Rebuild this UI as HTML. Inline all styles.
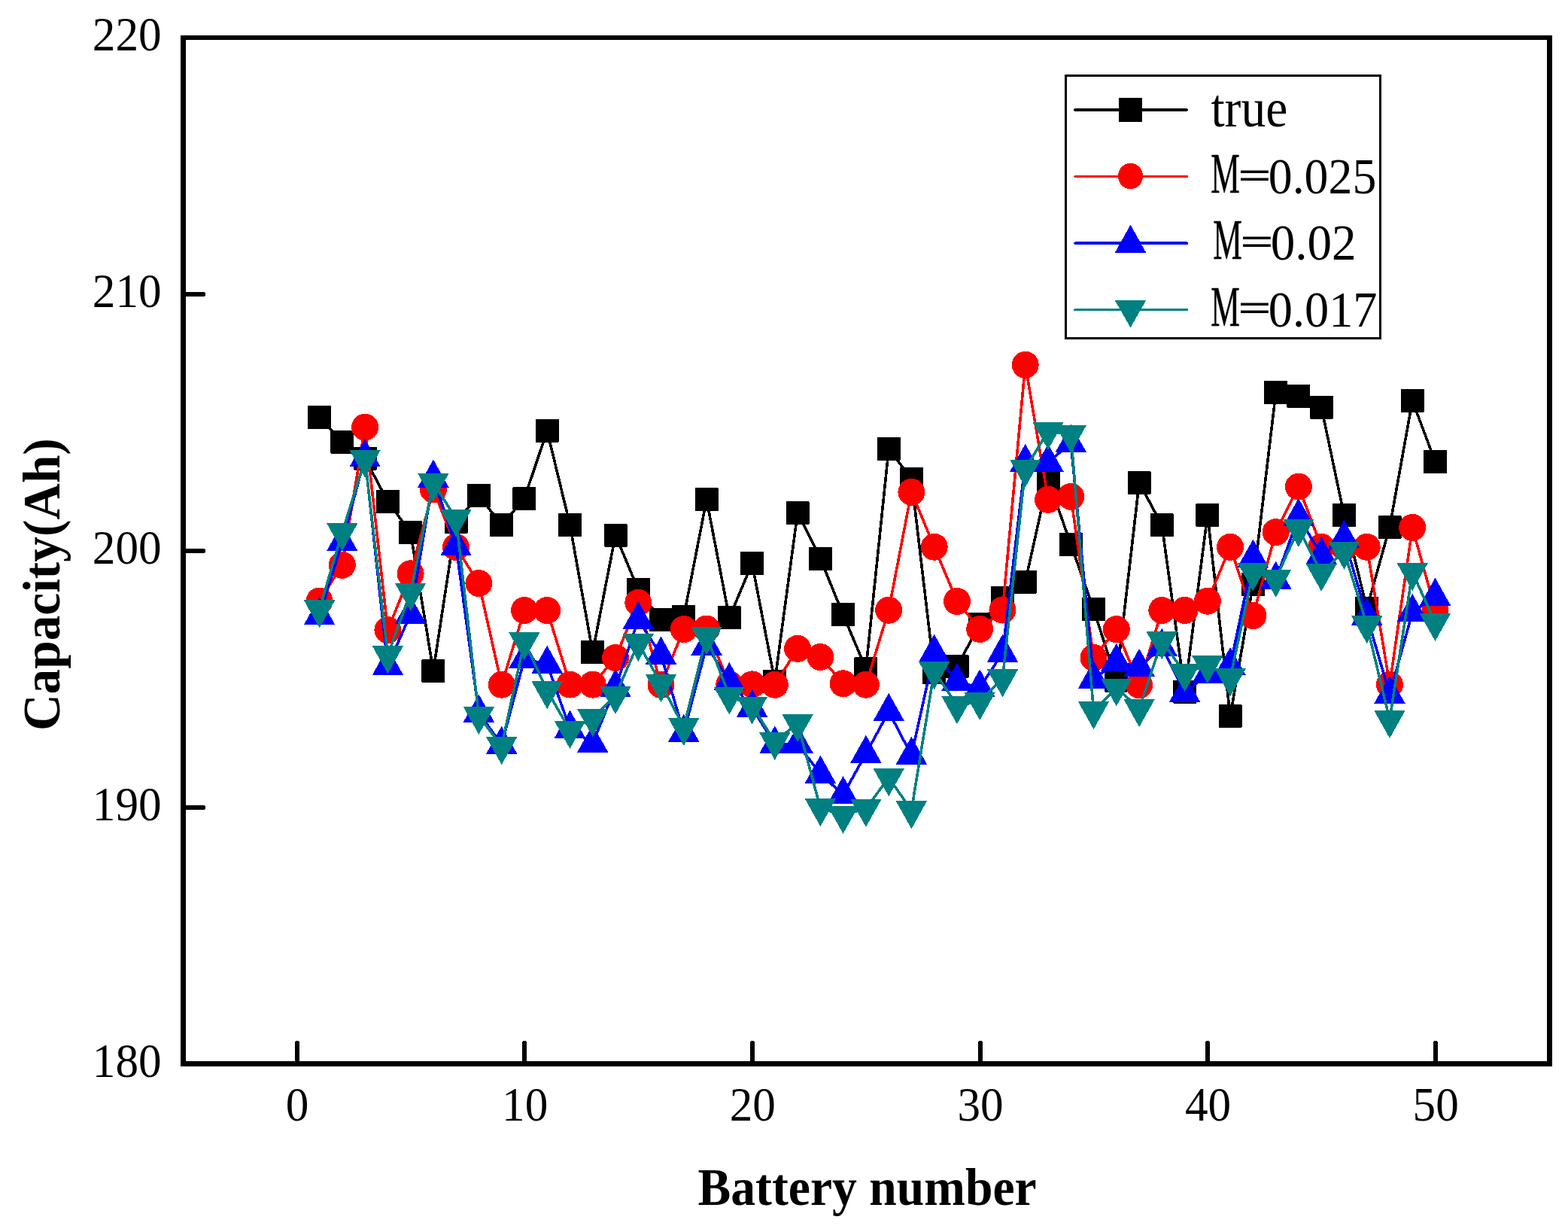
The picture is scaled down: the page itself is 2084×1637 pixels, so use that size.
<!DOCTYPE html>
<html lang="en">
<head>
<meta charset="utf-8">
<title>Capacity(Ah) vs Battery number</title>
<style>
html,body{margin:0;padding:0;background:#fff;}
body{width:2084px;height:1637px;overflow:hidden;}
svg{display:block;}
text{font-family:"Liberation Serif","DejaVu Serif",serif;fill:#000;}
.tick{font-size:60px;}
.title{font-weight:bold;}
.leg{font-size:67px;}
</style>
</head>
<body>
<svg width="2084" height="1637" viewBox="0 0 2084 1637">
<rect x="0" y="0" width="2084" height="1637" fill="#fff"/>
<g shape-rendering="crispEdges" stroke-linejoin="round">
<g stroke="#000" fill="#000"><polyline fill="none" stroke-width="3.6" points="424.6,554.3 454.8,587.3 485.1,609.0 515.4,666.4 545.6,707.3 575.9,891.4 606.1,693.5 636.4,658.3 666.7,697.7 696.9,662.4 727.2,572.4 757.5,697.4 787.7,866.7 818.0,711.0 848.3,783.6 878.5,823.5 908.8,819.5 939.1,663.8 969.3,820.8 999.6,748.7 1029.8,905.6 1060.1,681.3 1090.4,742.3 1120.6,816.8 1150.9,888.5 1181.2,596.4 1211.4,636.2 1241.7,893.5 1272.0,885.4 1302.2,829.7 1332.5,794.6 1362.7,773.0 1393.0,637.1 1423.3,723.5 1453.5,809.6 1483.8,904.0 1514.1,641.4 1544.3,697.8 1574.6,919.2 1604.9,684.4 1635.1,951.4 1665.4,776.7 1695.7,521.5 1725.9,526.3 1756.2,541.0 1786.4,684.5 1816.7,808.5 1847.0,700.3 1877.2,532.4 1907.5,613.4"/><g stroke="none"><rect x="409.1" y="538.8" width="31" height="31" rx="1"/><rect x="439.3" y="571.8" width="31" height="31" rx="1"/><rect x="469.6" y="593.5" width="31" height="31" rx="1"/><rect x="499.9" y="650.9" width="31" height="31" rx="1"/><rect x="530.1" y="691.8" width="31" height="31" rx="1"/><rect x="560.4" y="875.9" width="31" height="31" rx="1"/><rect x="590.6" y="678.0" width="31" height="31" rx="1"/><rect x="620.9" y="642.8" width="31" height="31" rx="1"/><rect x="651.2" y="682.2" width="31" height="31" rx="1"/><rect x="681.4" y="646.9" width="31" height="31" rx="1"/><rect x="711.7" y="556.9" width="31" height="31" rx="1"/><rect x="742.0" y="681.9" width="31" height="31" rx="1"/><rect x="772.2" y="851.2" width="31" height="31" rx="1"/><rect x="802.5" y="695.5" width="31" height="31" rx="1"/><rect x="832.8" y="768.1" width="31" height="31" rx="1"/><rect x="863.0" y="808.0" width="31" height="31" rx="1"/><rect x="893.3" y="804.0" width="31" height="31" rx="1"/><rect x="923.6" y="648.3" width="31" height="31" rx="1"/><rect x="953.8" y="805.3" width="31" height="31" rx="1"/><rect x="984.1" y="733.2" width="31" height="31" rx="1"/><rect x="1014.3" y="890.1" width="31" height="31" rx="1"/><rect x="1044.6" y="665.8" width="31" height="31" rx="1"/><rect x="1074.9" y="726.8" width="31" height="31" rx="1"/><rect x="1105.1" y="801.3" width="31" height="31" rx="1"/><rect x="1135.4" y="873.0" width="31" height="31" rx="1"/><rect x="1165.7" y="580.9" width="31" height="31" rx="1"/><rect x="1195.9" y="620.7" width="31" height="31" rx="1"/><rect x="1226.2" y="878.0" width="31" height="31" rx="1"/><rect x="1256.5" y="869.9" width="31" height="31" rx="1"/><rect x="1286.7" y="814.2" width="31" height="31" rx="1"/><rect x="1317.0" y="779.1" width="31" height="31" rx="1"/><rect x="1347.2" y="757.5" width="31" height="31" rx="1"/><rect x="1377.5" y="621.6" width="31" height="31" rx="1"/><rect x="1407.8" y="708.0" width="31" height="31" rx="1"/><rect x="1438.0" y="794.1" width="31" height="31" rx="1"/><rect x="1468.3" y="888.5" width="31" height="31" rx="1"/><rect x="1498.6" y="625.9" width="31" height="31" rx="1"/><rect x="1528.8" y="682.3" width="31" height="31" rx="1"/><rect x="1559.1" y="903.7" width="31" height="31" rx="1"/><rect x="1589.4" y="668.9" width="31" height="31" rx="1"/><rect x="1619.6" y="935.9" width="31" height="31" rx="1"/><rect x="1649.9" y="761.2" width="31" height="31" rx="1"/><rect x="1680.2" y="506.0" width="31" height="31" rx="1"/><rect x="1710.4" y="510.8" width="31" height="31" rx="1"/><rect x="1740.7" y="525.5" width="31" height="31" rx="1"/><rect x="1770.9" y="669.0" width="31" height="31" rx="1"/><rect x="1801.2" y="793.0" width="31" height="31" rx="1"/><rect x="1831.5" y="684.8" width="31" height="31" rx="1"/><rect x="1861.7" y="516.9" width="31" height="31" rx="1"/><rect x="1892.0" y="597.9" width="31" height="31" rx="1"/></g></g>
<g stroke="#f00" fill="#f00"><polyline fill="none" stroke-width="3.6" points="424.6,798.5 454.8,750.8 485.1,567.6 515.4,837.1 545.6,762.3 575.9,650.3 606.1,726.9 636.4,775.0 666.7,909.7 696.9,811.0 727.2,811.0 757.5,909.6 787.7,909.6 818.0,873.9 848.3,800.7 878.5,910.0 908.8,836.0 939.1,835.5 969.3,909.0 999.6,909.4 1029.8,909.8 1060.1,861.8 1090.4,873.0 1120.6,908.3 1150.9,909.7 1181.2,810.7 1211.4,653.8 1241.7,726.7 1272.0,799.0 1302.2,835.9 1332.5,810.5 1362.7,484.7 1393.0,663.8 1423.3,659.8 1453.5,873.9 1483.8,836.1 1514.1,910.2 1544.3,811.0 1574.6,810.9 1604.9,798.7 1635.1,726.8 1665.4,818.2 1695.7,707.1 1725.9,646.6 1756.2,726.7 1786.4,726.8 1816.7,726.8 1847.0,909.6 1877.2,700.9 1907.5,810.0"/><g stroke="none"><circle cx="424.6" cy="798.5" r="18"/><circle cx="454.8" cy="750.8" r="18"/><circle cx="485.1" cy="567.6" r="18"/><circle cx="515.4" cy="837.1" r="18"/><circle cx="545.6" cy="762.3" r="18"/><circle cx="575.9" cy="650.3" r="18"/><circle cx="606.1" cy="726.9" r="18"/><circle cx="636.4" cy="775.0" r="18"/><circle cx="666.7" cy="909.7" r="18"/><circle cx="696.9" cy="811.0" r="18"/><circle cx="727.2" cy="811.0" r="18"/><circle cx="757.5" cy="909.6" r="18"/><circle cx="787.7" cy="909.6" r="18"/><circle cx="818.0" cy="873.9" r="18"/><circle cx="848.3" cy="800.7" r="18"/><circle cx="878.5" cy="910.0" r="18"/><circle cx="908.8" cy="836.0" r="18"/><circle cx="939.1" cy="835.5" r="18"/><circle cx="969.3" cy="909.0" r="18"/><circle cx="999.6" cy="909.4" r="18"/><circle cx="1029.8" cy="909.8" r="18"/><circle cx="1060.1" cy="861.8" r="18"/><circle cx="1090.4" cy="873.0" r="18"/><circle cx="1120.6" cy="908.3" r="18"/><circle cx="1150.9" cy="909.7" r="18"/><circle cx="1181.2" cy="810.7" r="18"/><circle cx="1211.4" cy="653.8" r="18"/><circle cx="1241.7" cy="726.7" r="18"/><circle cx="1272.0" cy="799.0" r="18"/><circle cx="1302.2" cy="835.9" r="18"/><circle cx="1332.5" cy="810.5" r="18"/><circle cx="1362.7" cy="484.7" r="18"/><circle cx="1393.0" cy="663.8" r="18"/><circle cx="1423.3" cy="659.8" r="18"/><circle cx="1453.5" cy="873.9" r="18"/><circle cx="1483.8" cy="836.1" r="18"/><circle cx="1514.1" cy="910.2" r="18"/><circle cx="1544.3" cy="811.0" r="18"/><circle cx="1574.6" cy="810.9" r="18"/><circle cx="1604.9" cy="798.7" r="18"/><circle cx="1635.1" cy="726.8" r="18"/><circle cx="1665.4" cy="818.2" r="18"/><circle cx="1695.7" cy="707.1" r="18"/><circle cx="1725.9" cy="646.6" r="18"/><circle cx="1756.2" cy="726.7" r="18"/><circle cx="1786.4" cy="726.8" r="18"/><circle cx="1816.7" cy="726.8" r="18"/><circle cx="1847.0" cy="909.6" r="18"/><circle cx="1877.2" cy="700.9" r="18"/><circle cx="1907.5" cy="810.0" r="18"/></g></g>
<g stroke="#00f" fill="#00f"><polyline fill="none" stroke-width="3.6" points="424.6,817.7 454.8,719.8 485.1,608.0 515.4,884.7 545.6,816.2 575.9,635.3 606.1,725.9 636.4,947.3 666.7,989.5 696.9,875.7 727.2,882.4 757.5,968.4 787.7,987.5 818.0,913.6 848.3,823.5 878.5,870.4 908.8,973.5 939.1,858.3 969.3,904.6 999.6,940.5 1029.8,989.0 1060.1,988.5 1090.4,1028.4 1120.6,1055.8 1150.9,1001.4 1181.2,945.6 1211.4,1003.4 1241.7,867.3 1272.0,905.4 1302.2,914.0 1332.5,867.5 1362.7,614.5 1393.0,614.5 1423.3,588.6 1453.5,902.5 1483.8,879.4 1514.1,886.5 1544.3,859.7 1574.6,920.5 1604.9,895.6 1635.1,884.6 1665.4,741.3 1695.7,770.3 1725.9,686.7 1756.2,737.5 1786.4,715.6 1816.7,818.4 1847.0,922.5 1877.2,813.6 1907.5,792.4"/><g stroke="none"><polygon points="424.6,793.0 445.3,830.0 403.9,830.0"/><polygon points="454.8,695.1 475.5,732.1 434.1,732.1"/><polygon points="485.1,583.3 505.8,620.3 464.4,620.3"/><polygon points="515.4,860.0 536.1,897.0 494.7,897.0"/><polygon points="545.6,791.5 566.3,828.5 524.9,828.5"/><polygon points="575.9,610.6 596.6,647.6 555.2,647.6"/><polygon points="606.1,701.2 626.8,738.2 585.4,738.2"/><polygon points="636.4,922.6 657.1,959.6 615.7,959.6"/><polygon points="666.7,964.8 687.4,1001.8 646.0,1001.8"/><polygon points="696.9,851.0 717.6,888.0 676.2,888.0"/><polygon points="727.2,857.7 747.9,894.7 706.5,894.7"/><polygon points="757.5,943.7 778.2,980.7 736.8,980.7"/><polygon points="787.7,962.8 808.4,999.8 767.0,999.8"/><polygon points="818.0,888.9 838.7,925.9 797.3,925.9"/><polygon points="848.3,798.8 869.0,835.8 827.6,835.8"/><polygon points="878.5,845.7 899.2,882.7 857.8,882.7"/><polygon points="908.8,948.8 929.5,985.8 888.1,985.8"/><polygon points="939.1,833.6 959.8,870.6 918.4,870.6"/><polygon points="969.3,879.9 990.0,916.9 948.6,916.9"/><polygon points="999.6,915.8 1020.3,952.8 978.9,952.8"/><polygon points="1029.8,964.3 1050.5,1001.3 1009.1,1001.3"/><polygon points="1060.1,963.8 1080.8,1000.8 1039.4,1000.8"/><polygon points="1090.4,1003.7 1111.1,1040.7 1069.7,1040.7"/><polygon points="1120.6,1031.1 1141.3,1068.1 1099.9,1068.1"/><polygon points="1150.9,976.7 1171.6,1013.7 1130.2,1013.7"/><polygon points="1181.2,920.9 1201.9,957.9 1160.5,957.9"/><polygon points="1211.4,978.7 1232.1,1015.7 1190.7,1015.7"/><polygon points="1241.7,842.6 1262.4,879.6 1221.0,879.6"/><polygon points="1272.0,880.7 1292.7,917.7 1251.3,917.7"/><polygon points="1302.2,889.3 1322.9,926.3 1281.5,926.3"/><polygon points="1332.5,842.8 1353.2,879.8 1311.8,879.8"/><polygon points="1362.7,589.8 1383.4,626.8 1342.0,626.8"/><polygon points="1393.0,589.8 1413.7,626.8 1372.3,626.8"/><polygon points="1423.3,563.9 1444.0,600.9 1402.6,600.9"/><polygon points="1453.5,877.8 1474.2,914.8 1432.8,914.8"/><polygon points="1483.8,854.7 1504.5,891.7 1463.1,891.7"/><polygon points="1514.1,861.8 1534.8,898.8 1493.4,898.8"/><polygon points="1544.3,835.0 1565.0,872.0 1523.6,872.0"/><polygon points="1574.6,895.8 1595.3,932.8 1553.9,932.8"/><polygon points="1604.9,870.9 1625.6,907.9 1584.2,907.9"/><polygon points="1635.1,859.9 1655.8,896.9 1614.4,896.9"/><polygon points="1665.4,716.6 1686.1,753.6 1644.7,753.6"/><polygon points="1695.7,745.6 1716.4,782.6 1675.0,782.6"/><polygon points="1725.9,662.0 1746.6,699.0 1705.2,699.0"/><polygon points="1756.2,712.8 1776.9,749.8 1735.5,749.8"/><polygon points="1786.4,690.9 1807.1,727.9 1765.7,727.9"/><polygon points="1816.7,793.7 1837.4,830.7 1796.0,830.7"/><polygon points="1847.0,897.8 1867.7,934.8 1826.3,934.8"/><polygon points="1877.2,788.9 1897.9,825.9 1856.5,825.9"/><polygon points="1907.5,767.7 1928.2,804.7 1886.8,804.7"/></g></g>
<g stroke="#008080" fill="#008080"><polyline fill="none" stroke-width="3.6" points="424.6,809.7 454.8,707.5 485.1,610.4 515.4,870.5 545.6,787.2 575.9,641.3 606.1,689.1 636.4,951.3 666.7,991.4 696.9,852.3 727.2,917.5 757.5,970.3 787.7,954.3 818.0,924.4 848.3,854.3 878.5,908.4 908.8,966.2 939.1,845.4 969.3,924.8 999.6,937.8 1029.8,985.4 1060.1,961.4 1090.4,1073.5 1120.6,1083.2 1150.9,1074.2 1181.2,1033.4 1211.4,1076.6 1241.7,891.5 1272.0,937.5 1302.2,932.3 1332.5,901.7 1362.7,622.9 1393.0,573.0 1423.3,577.3 1453.5,944.4 1483.8,913.8 1514.1,941.4 1544.3,851.7 1574.6,894.4 1604.9,883.5 1635.1,900.6 1665.4,760.4 1695.7,769.1 1725.9,702.3 1756.2,761.1 1786.4,732.1 1816.7,830.5 1847.0,956.4 1877.2,760.4 1907.5,827.3"/><g stroke="none"><polygon points="424.6,834.4 445.3,797.4 403.9,797.4"/><polygon points="454.8,732.2 475.5,695.2 434.1,695.2"/><polygon points="485.1,635.1 505.8,598.1 464.4,598.1"/><polygon points="515.4,895.2 536.1,858.2 494.7,858.2"/><polygon points="545.6,811.9 566.3,774.9 524.9,774.9"/><polygon points="575.9,666.0 596.6,629.0 555.2,629.0"/><polygon points="606.1,713.8 626.8,676.8 585.4,676.8"/><polygon points="636.4,976.0 657.1,939.0 615.7,939.0"/><polygon points="666.7,1016.1 687.4,979.1 646.0,979.1"/><polygon points="696.9,877.0 717.6,840.0 676.2,840.0"/><polygon points="727.2,942.2 747.9,905.2 706.5,905.2"/><polygon points="757.5,995.0 778.2,958.0 736.8,958.0"/><polygon points="787.7,979.0 808.4,942.0 767.0,942.0"/><polygon points="818.0,949.1 838.7,912.1 797.3,912.1"/><polygon points="848.3,879.0 869.0,842.0 827.6,842.0"/><polygon points="878.5,933.1 899.2,896.1 857.8,896.1"/><polygon points="908.8,990.9 929.5,953.9 888.1,953.9"/><polygon points="939.1,870.1 959.8,833.1 918.4,833.1"/><polygon points="969.3,949.5 990.0,912.5 948.6,912.5"/><polygon points="999.6,962.5 1020.3,925.5 978.9,925.5"/><polygon points="1029.8,1010.1 1050.5,973.1 1009.1,973.1"/><polygon points="1060.1,986.1 1080.8,949.1 1039.4,949.1"/><polygon points="1090.4,1098.2 1111.1,1061.2 1069.7,1061.2"/><polygon points="1120.6,1107.9 1141.3,1070.9 1099.9,1070.9"/><polygon points="1150.9,1098.9 1171.6,1061.9 1130.2,1061.9"/><polygon points="1181.2,1058.1 1201.9,1021.1 1160.5,1021.1"/><polygon points="1211.4,1101.3 1232.1,1064.3 1190.7,1064.3"/><polygon points="1241.7,916.2 1262.4,879.2 1221.0,879.2"/><polygon points="1272.0,962.2 1292.7,925.2 1251.3,925.2"/><polygon points="1302.2,957.0 1322.9,920.0 1281.5,920.0"/><polygon points="1332.5,926.4 1353.2,889.4 1311.8,889.4"/><polygon points="1362.7,647.6 1383.4,610.6 1342.0,610.6"/><polygon points="1393.0,597.7 1413.7,560.7 1372.3,560.7"/><polygon points="1423.3,602.0 1444.0,565.0 1402.6,565.0"/><polygon points="1453.5,969.1 1474.2,932.1 1432.8,932.1"/><polygon points="1483.8,938.5 1504.5,901.5 1463.1,901.5"/><polygon points="1514.1,966.1 1534.8,929.1 1493.4,929.1"/><polygon points="1544.3,876.4 1565.0,839.4 1523.6,839.4"/><polygon points="1574.6,919.1 1595.3,882.1 1553.9,882.1"/><polygon points="1604.9,908.2 1625.6,871.2 1584.2,871.2"/><polygon points="1635.1,925.3 1655.8,888.3 1614.4,888.3"/><polygon points="1665.4,785.1 1686.1,748.1 1644.7,748.1"/><polygon points="1695.7,793.8 1716.4,756.8 1675.0,756.8"/><polygon points="1725.9,727.0 1746.6,690.0 1705.2,690.0"/><polygon points="1756.2,785.8 1776.9,748.8 1735.5,748.8"/><polygon points="1786.4,756.8 1807.1,719.8 1765.7,719.8"/><polygon points="1816.7,855.2 1837.4,818.2 1796.0,818.2"/><polygon points="1847.0,981.1 1867.7,944.1 1826.3,944.1"/><polygon points="1877.2,785.1 1897.9,748.1 1856.5,748.1"/><polygon points="1907.5,852.0 1928.2,815.0 1886.8,815.0"/></g></g>
</g>
<g shape-rendering="crispEdges" fill="#000"><rect x="240" y="47" width="1823" height="6"/><rect x="240" y="1410" width="1823" height="7"/><rect x="240" y="47" width="7" height="1370"/><rect x="2056" y="47" width="7" height="1370"/></g>
<g stroke="#000" stroke-width="6" stroke-linecap="round" shape-rendering="crispEdges"><line x1="395" y1="1412" x2="395" y2="1386"/><line x1="697" y1="1412" x2="697" y2="1386"/><line x1="1000" y1="1412" x2="1000" y2="1386"/><line x1="1303" y1="1412" x2="1303" y2="1386"/><line x1="1605" y1="1412" x2="1605" y2="1386"/><line x1="1908" y1="1412" x2="1908" y2="1386"/><line x1="245" y1="1073" x2="270" y2="1073"/><line x1="245" y1="732" x2="270" y2="732"/><line x1="245" y1="391" x2="270" y2="391"/></g>
<g class="tick" text-anchor="middle"><text transform="translate(395.1,1489.4) scale(1.02,1.065)">0</text><text transform="translate(697.7,1489.4) scale(1.02,1.065)">10</text><text transform="translate(1000.3,1489.4) scale(1.02,1.065)">20</text><text transform="translate(1303.0,1489.4) scale(1.02,1.065)">30</text><text transform="translate(1605.6,1489.4) scale(1.02,1.065)">40</text><text transform="translate(1908.2,1489.4) scale(1.02,1.065)">50</text></g>
<g class="tick" text-anchor="end"><text transform="translate(214.6,1430.5) scale(1.02,1.065)">180</text><text transform="translate(214.6,1089.8) scale(1.02,1.065)">190</text><text transform="translate(214.6,749.0) scale(1.02,1.065)">200</text><text transform="translate(214.6,408.0) scale(1.02,1.065)">210</text><text transform="translate(214.6,67.0) scale(1.02,1.065)">220</text></g>
<text class="title" font-size="68" transform="translate(927.5,1601.2) scale(0.9655,1.013)">Battery number</text>
<text class="title" font-size="68" transform="translate(78.8,971) rotate(-90) scale(0.9896,1.036)">Capacity(Ah)</text>
<g shape-rendering="crispEdges"><rect x="1416.5" y="100" width="418" height="349.3" fill="#fff" stroke="#000" stroke-width="3"/></g>
<g shape-rendering="crispEdges" stroke-linecap="round" stroke-width="3.6"><line x1="1429" y1="146.0" x2="1577.3" y2="146.0" stroke="#000"/><line x1="1429" y1="234.5" x2="1577.3" y2="234.5" stroke="#f00"/><line x1="1429" y1="323.2" x2="1577.3" y2="323.2" stroke="#00f"/><line x1="1429" y1="411.6" x2="1577.3" y2="411.6" stroke="#008080"/></g>
<g shape-rendering="crispEdges"><rect x="1487.0" y="130.0" width="31" height="32" rx="1" fill="#000"/><ellipse cx="1502.5" cy="234.0" rx="16.6" ry="17.2" fill="#f00"/><g fill="#00f"><polygon points="1502.5,298.7 1523.2,335.7 1481.8,335.7"/></g><g fill="#008080"><polygon points="1502.5,435.3 1523.2,399.3 1481.8,399.3"/></g></g>
<text class="leg" transform="translate(1609.4,168.4) scale(0.978,1.08)">true</text>
<text class="leg" transform="translate(0,256.4) scale(1,1.08)"><tspan x="1609.3" font-size="69.5" textLength="38.6" lengthAdjust="spacingAndGlyphs" stroke="#000" stroke-width="0.5">M</tspan><tspan x="1646.0" dy="-5.8" font-size="46.8" textLength="42.8" lengthAdjust="spacingAndGlyphs" stroke="#000" stroke-width="0.9">=</tspan><tspan x="1685.8" dy="6.6" font-size="63.5" textLength="143.5" lengthAdjust="spacingAndGlyphs">0.025</tspan></text>
<text class="leg" transform="translate(0,344.4) scale(1,1.08)"><tspan x="1612.2" font-size="69.5" textLength="38.6" lengthAdjust="spacingAndGlyphs" stroke="#000" stroke-width="0.5">M</tspan><tspan x="1648.9" dy="-5.8" font-size="46.8" textLength="42.8" lengthAdjust="spacingAndGlyphs" stroke="#000" stroke-width="0.9">=</tspan><tspan x="1688.7" dy="6.6" font-size="63.5" textLength="114.0" lengthAdjust="spacingAndGlyphs">0.02</tspan></text>
<text class="leg" transform="translate(0,432.7) scale(1,1.08)"><tspan x="1609.3" font-size="69.5" textLength="38.6" lengthAdjust="spacingAndGlyphs" stroke="#000" stroke-width="0.5">M</tspan><tspan x="1646.0" dy="-5.8" font-size="46.8" textLength="42.8" lengthAdjust="spacingAndGlyphs" stroke="#000" stroke-width="0.9">=</tspan><tspan x="1685.8" dy="6.6" font-size="63.5" textLength="144.7" lengthAdjust="spacingAndGlyphs">0.017</tspan></text>
</svg>
</body>
</html>
